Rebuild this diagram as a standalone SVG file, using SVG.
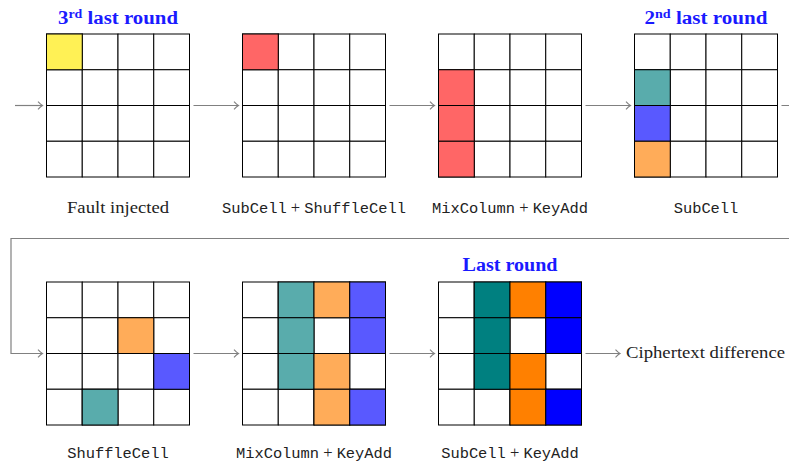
<svg xmlns="http://www.w3.org/2000/svg" width="789" height="463" viewBox="0 0 789 463">
<defs>
<style>
.cell{stroke:#000;stroke-width:1;fill:#fff}
.ttl{font-family:"Liberation Serif",serif;font-weight:bold;font-size:18px;fill:#1a1aff}
.lbl{font-family:"Liberation Serif",serif;font-size:16.5px;fill:#222}
.mono{font-family:"Liberation Mono",monospace;font-size:15.4px;fill:#222}
.conn{stroke:#808080;stroke-width:1.2;fill:none}
.y{fill:#FFF155}.r{fill:#FF6666}.t6{fill:#59ACAC}.b6{fill:#5959FF}.o6{fill:#FFAC59}
.t{fill:#008080}.o{fill:#FF8000}.b{fill:#0000FF}
</style>
<marker id="ah" markerWidth="10" markerHeight="10" refX="8" refY="5" orient="auto" markerUnits="userSpaceOnUse">
<path d="M3.5,1.2 Q6,4 8,5 Q6,6 3.5,8.8" fill="none" stroke="#808080" stroke-width="1.1"/>
</marker>
<g id="grid">
<rect class="cell" x="0" y="0" width="35.75" height="35.75"/>
<rect class="cell" x="35.75" y="0" width="35.75" height="35.75"/>
<rect class="cell" x="71.5" y="0" width="35.75" height="35.75"/>
<rect class="cell" x="107.25" y="0" width="35.75" height="35.75"/>
<rect class="cell" x="0" y="35.75" width="35.75" height="35.75"/>
<rect class="cell" x="35.75" y="35.75" width="35.75" height="35.75"/>
<rect class="cell" x="71.5" y="35.75" width="35.75" height="35.75"/>
<rect class="cell" x="107.25" y="35.75" width="35.75" height="35.75"/>
<rect class="cell" x="0" y="71.5" width="35.75" height="35.75"/>
<rect class="cell" x="35.75" y="71.5" width="35.75" height="35.75"/>
<rect class="cell" x="71.5" y="71.5" width="35.75" height="35.75"/>
<rect class="cell" x="107.25" y="71.5" width="35.75" height="35.75"/>
<rect class="cell" x="0" y="107.25" width="35.75" height="35.75"/>
<rect class="cell" x="35.75" y="107.25" width="35.75" height="35.75"/>
<rect class="cell" x="71.5" y="107.25" width="35.75" height="35.75"/>
<rect class="cell" x="107.25" y="107.25" width="35.75" height="35.75"/>
</g>
</defs>
<rect width="789" height="463" fill="#fff"/>

<g id="connectors">
<line class="conn" x1="15" y1="105.5" x2="42.5" y2="105.5" marker-end="url(#ah)"/>
<line class="conn" x1="193.5" y1="105.5" x2="238.5" y2="105.5" marker-end="url(#ah)"/>
<line class="conn" x1="389.5" y1="105.5" x2="434.5" y2="105.5" marker-end="url(#ah)"/>
<line class="conn" x1="585.5" y1="105.5" x2="630.5" y2="105.5" marker-end="url(#ah)"/>
<path class="conn" d="M781.5,105.5 H800 V238.5 H11 V353.5 H42.5" marker-end="url(#ah)"/>
<line class="conn" x1="193.5" y1="353.5" x2="238.5" y2="353.5" marker-end="url(#ah)"/>
<line class="conn" x1="389.5" y1="353.5" x2="434.5" y2="353.5" marker-end="url(#ah)"/>
<line class="conn" x1="585.5" y1="353.5" x2="620" y2="353.5" marker-end="url(#ah)"/>
</g>

<g id="state1">
<text class="ttl" x="118" y="24" text-anchor="middle" textLength="120" lengthAdjust="spacingAndGlyphs">3<tspan font-size="12" dy="-6">rd</tspan><tspan dy="6"> last round</tspan></text>
<use href="#grid" x="46.5" y="34"/>
<rect class="cell y" x="46.5" y="34" width="35.75" height="35.75"/>
<text class="lbl" x="118" y="213" text-anchor="middle" textLength="102" lengthAdjust="spacingAndGlyphs">Fault injected</text>
</g>

<g id="state2">
<use href="#grid" x="242.5" y="34"/>
<rect class="cell r" x="242.5" y="34" width="35.75" height="35.75"/>
<text x="314" y="213" text-anchor="middle"><tspan class="mono">SubCell</tspan><tspan class="lbl"> + </tspan><tspan class="mono">ShuffleCell</tspan></text>
</g>

<g id="state3">
<use href="#grid" x="438.5" y="34"/>
<rect class="cell r" x="438.5" y="69.75" width="35.75" height="35.75"/>
<rect class="cell r" x="438.5" y="105.5" width="35.75" height="35.75"/>
<rect class="cell r" x="438.5" y="141.25" width="35.75" height="35.75"/>
<text x="510" y="213" text-anchor="middle"><tspan class="mono">MixColumn</tspan><tspan class="lbl"> + </tspan><tspan class="mono">KeyAdd</tspan></text>
</g>

<g id="state4">
<text class="ttl" x="706" y="24" text-anchor="middle" textLength="123" lengthAdjust="spacingAndGlyphs">2<tspan font-size="12" dy="-6">nd</tspan><tspan dy="6"> last round</tspan></text>
<use href="#grid" x="634.5" y="34"/>
<rect class="cell t6" x="634.5" y="69.75" width="35.75" height="35.75"/>
<rect class="cell b6" x="634.5" y="105.5" width="35.75" height="35.75"/>
<rect class="cell o6" x="634.5" y="141.25" width="35.75" height="35.75"/>
<text class="mono" x="706" y="213" text-anchor="middle">SubCell</text>
</g>

<g id="state5">
<use href="#grid" x="46.5" y="282"/>
<rect class="cell o6" x="118" y="317.75" width="35.75" height="35.75"/>
<rect class="cell b6" x="153.75" y="353.5" width="35.75" height="35.75"/>
<rect class="cell t6" x="82.25" y="389.25" width="35.75" height="35.75"/>
<text class="mono" x="118" y="458" text-anchor="middle">ShuffleCell</text>
</g>

<g id="state6">
<use href="#grid" x="242.5" y="282"/>
<rect class="cell t6" x="278.25" y="282" width="35.75" height="35.75"/>
<rect class="cell t6" x="278.25" y="317.75" width="35.75" height="35.75"/>
<rect class="cell t6" x="278.25" y="353.5" width="35.75" height="35.75"/>
<rect class="cell o6" x="314" y="282" width="35.75" height="35.75"/>
<rect class="cell o6" x="314" y="353.5" width="35.75" height="35.75"/>
<rect class="cell o6" x="314" y="389.25" width="35.75" height="35.75"/>
<rect class="cell b6" x="349.75" y="282" width="35.75" height="35.75"/>
<rect class="cell b6" x="349.75" y="317.75" width="35.75" height="35.75"/>
<rect class="cell b6" x="349.75" y="389.25" width="35.75" height="35.75"/>
<text x="314" y="458" text-anchor="middle"><tspan class="mono">MixColumn</tspan><tspan class="lbl"> + </tspan><tspan class="mono">KeyAdd</tspan></text>
</g>

<g id="state7">
<text class="ttl" x="510" y="271" text-anchor="middle" textLength="95" lengthAdjust="spacingAndGlyphs">Last round</text>
<use href="#grid" x="438.5" y="282"/>
<rect class="cell t" x="474.25" y="282" width="35.75" height="35.75"/>
<rect class="cell t" x="474.25" y="317.75" width="35.75" height="35.75"/>
<rect class="cell t" x="474.25" y="353.5" width="35.75" height="35.75"/>
<rect class="cell o" x="510" y="282" width="35.75" height="35.75"/>
<rect class="cell o" x="510" y="353.5" width="35.75" height="35.75"/>
<rect class="cell o" x="510" y="389.25" width="35.75" height="35.75"/>
<rect class="cell b" x="545.75" y="282" width="35.75" height="35.75"/>
<rect class="cell b" x="545.75" y="317.75" width="35.75" height="35.75"/>
<rect class="cell b" x="545.75" y="389.25" width="35.75" height="35.75"/>
<text x="510" y="458" text-anchor="middle"><tspan class="mono">SubCell</tspan><tspan class="lbl"> + </tspan><tspan class="mono">KeyAdd</tspan></text>
</g>

<g id="output">
<text class="lbl" x="626" y="358" textLength="159" lengthAdjust="spacingAndGlyphs">Ciphertext difference</text>
</g>
</svg>
